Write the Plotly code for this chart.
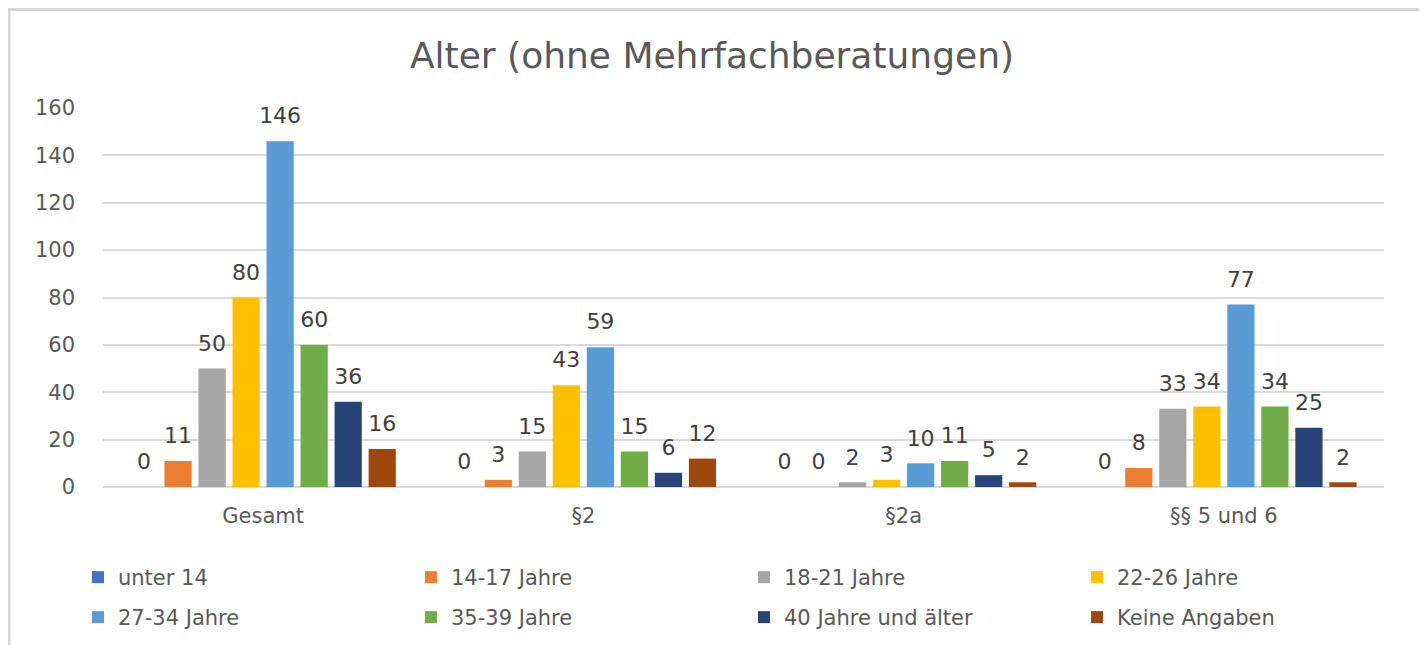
import plotly.graph_objects as go

categories = ["Gesamt", "§2", "§2a", "§§ 5 und 6"]
series_names = ["unter 14", "14-17 Jahre", "18-21 Jahre", "22-26 Jahre",
                "27-34 Jahre", "35-39 Jahre", "40 Jahre und älter", "Keine Angaben"]
unter_14 = [0, 0, 0, 0]
j14_17 = [11, 3, 0, 8]
j18_21 = [50, 15, 2, 33]
j22_26 = [80, 43, 3, 34]
j27_34 = [146, 59, 10, 77]
j35_39 = [60, 15, 11, 34]
j40_plus = [36, 6, 5, 25]
keine_angaben = [16, 12, 2, 2]
values = [unter_14, j14_17, j18_21, j22_26, j27_34, j35_39, j40_plus, keine_angaben]
colors = ["#4472C4", "#ED7D31", "#A5A5A5", "#FFC000",
          "#5B9BD5", "#70AD47", "#264478", "#9E480E"]
y_ticks = [0, 20, 40, 60, 80, 100, 120, 140, 160]

FONT = "DejaVu Sans"
OFF = 8  # page body margin
W, H = 1427 - OFF, 645 - OFF
L, R, T, B = 103 - OFF, 1427 - 1384, 108 - OFF, 645 - 487


def px_x(p):
    return (p - OFF - L) / (W - L - R)


def px_y(p):
    return (H - B - (p - OFF)) / (H - T - B)


fig = go.Figure()
for i, (name, vals, col) in enumerate(zip(series_names, values, colors)):
    fig.add_trace(go.Bar(
        x=categories, y=vals, name=name, marker_color=col,
        marker_line_width=0, offsetgroup=str(i), alignmentgroup="g",
        legend="legend" if i < 4 else "legend2",
        hoverinfo="x+y+name",
    ))
for i, (name, vals) in enumerate(zip(series_names, values)):
    fig.add_trace(go.Scatter(
        x=categories, y=vals, mode="markers+text",
        text=[str(v) for v in vals], textposition="top center",
        textfont=dict(family=FONT, size=22, color="#404040"),
        marker=dict(size=18, opacity=0),
        offsetgroup=str(i), alignmentgroup="g",
        showlegend=False, hoverinfo="skip", cliponaxis=False,
    ))

legend_common = dict(orientation="h", xanchor="left", yanchor="top",
                     entrywidth=288, entrywidthmode="pixels",
                     font=dict(family=FONT, size=21, color="#595959"),
                     itemwidth=30, traceorder="normal", tracegroupgap=0,
                     bgcolor="rgba(0,0,0,0)")

fig.update_layout(
    width=W, height=H,
    margin=dict(l=L, r=R, t=T, b=B, autoexpand=False),
    paper_bgcolor="white", plot_bgcolor="white",
    barmode="group", bargap=0.15, bargroupgap=0.2,
    scattermode="group",
    title=dict(text="Alter (ohne Mehrfachberatungen)",
               x=(712 - OFF) / W, xref="container", xanchor="center",
               y=1 - (55 - OFF) / H, yref="container", yanchor="middle",
               font=dict(family=FONT, size=36, color="#595959")),
    font=dict(family=FONT, color="#595959"),
    xaxis=dict(showgrid=False, showline=False, ticks="", ticklabelstandoff=14,
               tickfont=dict(family=FONT, size=21, color="#595959")),
    yaxis=dict(range=[0, 160], tickvals=y_ticks, showgrid=True,
               gridcolor="#D9D9D9", gridwidth=2, zeroline=True,
               zerolinecolor="#D9D9D9", zerolinewidth=2, showline=False,
               ticks="", ticklabelstandoff=27,
               tickfont=dict(family=FONT, size=21, color="#595959")),
    legend=dict(x=px_x(78), y=px_y(557), **legend_common),
    legend2=dict(x=px_x(78), y=px_y(597), **legend_common),
    showlegend=True,
    shapes=[dict(type="rect", xref="paper", yref="paper",
                 x0=px_x(OFF + 1), x1=px_x(1421), y0=px_y(700), y1=px_y(OFF + 1.5),
                 line=dict(color="#D9D9D9", width=3), layer="below")],
)
fig.write_html("out.html")
